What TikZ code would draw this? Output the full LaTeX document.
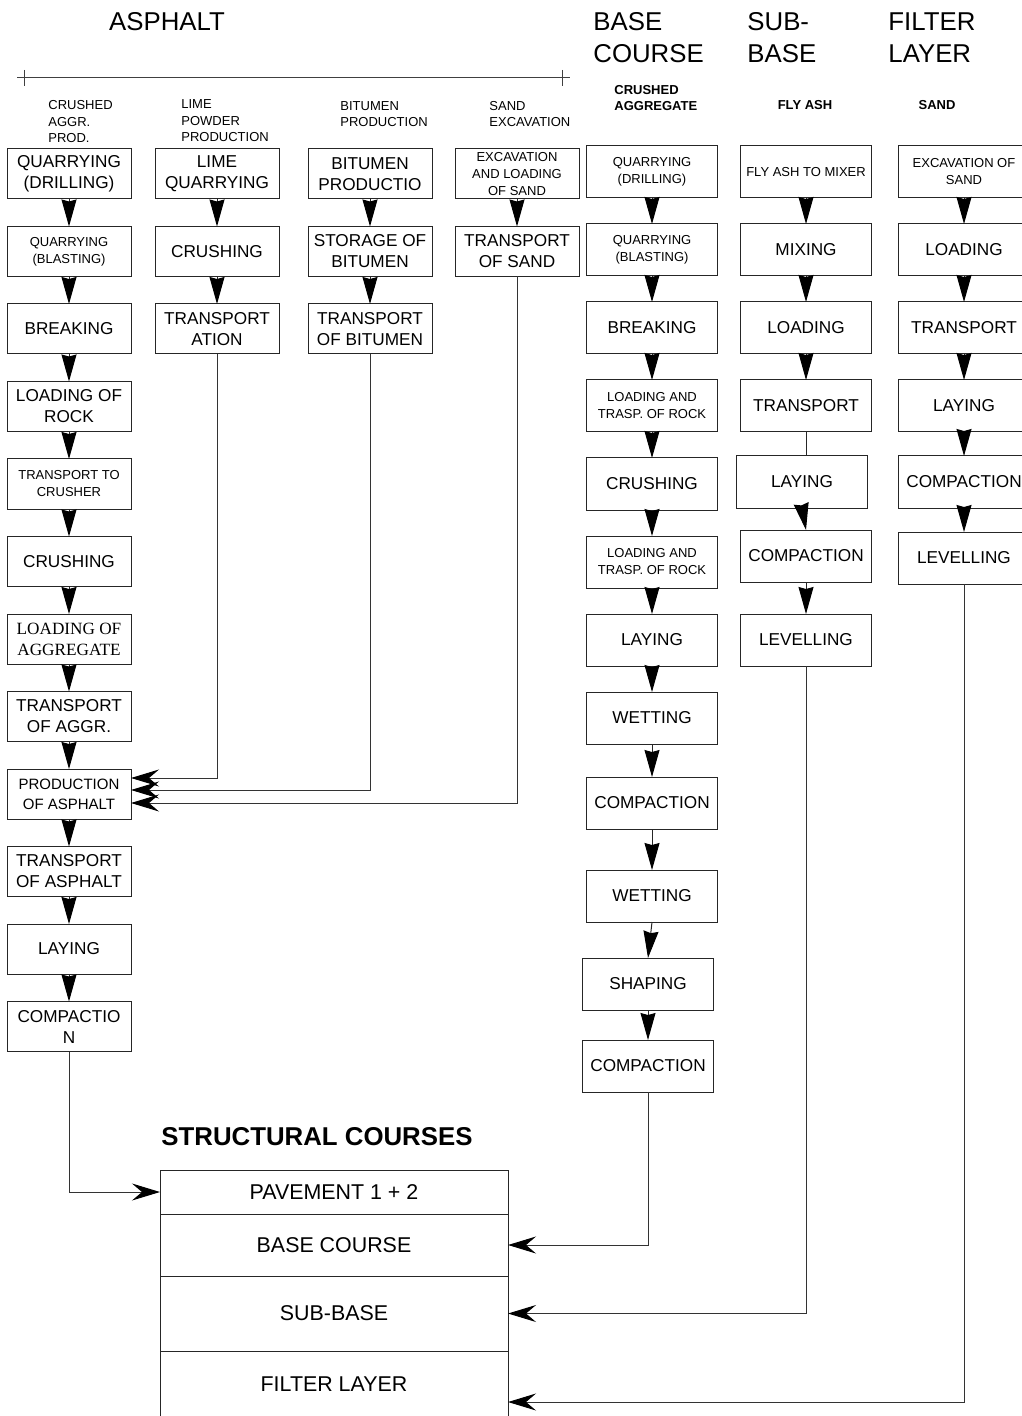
\documentclass[tikz,border=0pt]{standalone}
\usepackage{fontspec}
\setmainfont{Liberation Sans}
\newfontfamily\timesfont{Liberation Serif}
\usepackage{tikz}
\usetikzlibrary{positioning}
\usetikzlibrary{arrows.meta}

\begin{document}
\begin{tikzpicture}[
x=0.5pt, y=-0.5pt,
node distance=13.75pt,
procbox/.style={rectangle, draw=black!85, line width=0.5pt, outer sep=0pt, minimum width=62pt, minimum height=25pt, inner sep=1pt, align=center, font=\fontsize{8.6}{10.5}\selectfont},
smallbox/.style={procbox, font=\fontsize{6.5}{8.5}\selectfont},
widebox/.style={procbox, minimum width=65.5pt, minimum height=26pt},
widesmall/.style={widebox, font=\fontsize{6.5}{8.5}\selectfont},
layer/.style={rectangle, draw=black!85, line width=0.5pt, outer sep=0pt, minimum width=174pt, inner sep=0pt, font=\fontsize{10.7}{12}\selectfont},
heading/.style={align=left, anchor=west, inner sep=0pt, font=\fontsize{12.9}{16}\selectfont},
source/.style={align=left, anchor=west, inner sep=0pt, font=\fontsize{6.5}{8.25}\selectfont},
flow/.style={draw=black!85, line width=0.5pt, -{Stealth[length=13.5pt, width=7.5pt, inset=1pt, black]}},
feed/.style={draw=black!80, line width=0.5pt, -{Stealth[length=14pt, width=8.5pt, inset=5pt, black]}}
]
\useasboundingbox (0,0) rectangle (1021,1416);

%Headings
\node[font=\fontsize{12.9}{16}\selectfont] (asph) at (167,22) {ASPHALT};
\node[heading] (bchead) at (593,38) {BASE\\COURSE};
\node[heading] (sbhead) at (747,38) {SUB-\\BASE};
\node[heading] (flhead) at (888,38) {FILTER\\LAYER};
\draw[black!75, line width=0.5pt] (17,78) -- (570,78);
\draw[black!75, line width=0.5pt] (24,70) -- (24,86) (562,70) -- (562,86);

\node[source] (asrc) at (48,122) {CRUSHED\\AGGR.\\PROD.};
\node[source] (lsrc) at (181,121) {LIME\\POWDER\\PRODUCTION};
\node[source] (bsrc) at (340,114) {BITUMEN\\PRODUCTION};
\node[source] (ssrc) at (489,114) {SAND\\EXCAVATION};
\node[source, font=\bfseries\fontsize{6.5}{8.25}\selectfont] (casrc) at (614,98) {CRUSHED\\AGGREGATE};
\node[font=\bfseries\fontsize{6.5}{8}\selectfont] (fasrc) at (805,105) {FLY ASH};
\node[font=\bfseries\fontsize{6.5}{8}\selectfont] (sdsrc) at (937,105) {SAND};

%Nodes
\node[procbox]  (a1)  at (69,174)      {QUARRYING\\(DRILLING)};
\node[smallbox] (a2)  [below=of a1]    {QUARRYING\\(BLASTING)};
\node[procbox]  (a3)  [below=of a2]    {BREAKING};
\node[procbox]  (a4)  [below=of a3]    {LOADING OF\\ROCK};
\node[smallbox] (a5)  [below=of a4]    {TRANSPORT TO\\CRUSHER};
\node[procbox]  (a6)  [below=of a5]    {CRUSHING};
\node[procbox, font=\timesfont\fontsize{8.6}{10.5}\selectfont] (a7) [below=of a6] {LOADING OF\\AGGREGATE};
\node[procbox]  (a8)  [below=of a7]    {TRANSPORT\\OF AGGR.};
\node[procbox, font=\fontsize{7.5}{10}\selectfont] (a9) [below=of a8] {PRODUCTION\\OF ASPHALT};
\node[procbox]  (a10) [below=of a9]    {TRANSPORT\\OF ASPHALT};
\node[procbox]  (a11) [below=of a10]   {LAYING};
\node[procbox]  (a12) [below=of a11]   {COMPACTIO\\N};

\node[procbox]  (b1)  at (217,174)     {LIME\\QUARRYING};
\node[procbox]  (b2)  [below=of b1]    {CRUSHING};
\node[procbox]  (b3)  [below=of b2]    {TRANSPORT\\ATION};

\node[procbox]  (c1)  at (370,174)     {BITUMEN\\PRODUCTIO};
\node[procbox]  (c2)  [below=of c1]    {STORAGE OF\\BITUMEN};
\node[procbox]  (c3)  [below=of c2]    {TRANSPORT\\OF BITUMEN};

\node[smallbox] (d1)  at (517,174)     {EXCAVATION\\AND LOADING\\OF SAND};
\node[procbox]  (d2)  [below=of d1]    {TRANSPORT\\OF SAND};

\node[widesmall] (e1)  at (652,172)          {QUARRYING\\(DRILLING)};
\node[widesmall] (e2)  [below=13pt of e1]    {QUARRYING\\(BLASTING)};
\node[widebox]   (e3)  [below=13pt of e2]    {BREAKING};
\node[widesmall] (e4)  [below=13pt of e3]    {LOADING AND\\TRASP. OF ROCK};
\node[widebox]   (e5)  [below=13pt of e4]    {CRUSHING};
\node[widesmall] (e6)  [below=13pt of e5]    {LOADING AND\\TRASP. OF ROCK};
\node[widebox]   (e7)  [below=13pt of e6]    {LAYING};
\node[widebox]   (e8)  [below=13pt of e7]    {WETTING};
\node[widebox]   (e9)  [below=16.5pt of e8]  {COMPACTION};
\node[widebox]   (e10) [below=20.5pt of e9]  {WETTING};
\node[widebox]   (e11) [below=18pt of e10, xshift=-2pt] {SHAPING};
\node[widebox]   (e12) [below=15pt of e11]   {COMPACTION};

\node[widesmall] (f1)  at (806,172)          {FLY ASH TO MIXER};
\node[widebox]   (f2)  [below=13pt of f1]    {MIXING};
\node[widebox]   (f3)  [below=13pt of f2]    {LOADING};
\node[widebox]   (f4)  [below=13pt of f3]    {TRANSPORT};
\node[widebox]   (f5)  [below=12pt of f4, xshift=-2pt] {LAYING};
\node[widebox]   (f6)  [below=11pt of f5, xshift=2pt]  {COMPACTION};
\node[widebox]   (f7)  [below=16pt of f6]    {LEVELLING};

\node[widesmall] (g1)  at (964,172)          {EXCAVATION OF\\SAND};
\node[widebox]   (g2)  [below=13pt of g1]    {LOADING};
\node[widebox]   (g3)  [below=13pt of g2]    {TRANSPORT};
\node[widebox]   (g4)  [below=13pt of g3]    {LAYING};
\node[widebox]   (g5)  [below=12pt of g4]    {COMPACTION};
\node[widebox]   (g6)  [below=12pt of g5]    {LEVELLING};

\node[font=\bfseries\fontsize{12.9}{15}\selectfont] (struct) at (317,1137) {STRUCTURAL COURSES};
\node[layer, minimum height=22pt]   (pave) at (334,1192)        {PAVEMENT 1 + 2};
\node[layer, minimum height=31pt]   (base) [below=0pt of pave]  {BASE COURSE};
\node[layer, minimum height=37.5pt] (sub)  [below=0pt of base]  {SUB-BASE};
\node[layer, minimum height=33.5pt] (filt) [below=0pt of sub]   {FILTER LAYER};

%Lines
\draw[flow] (a1.south) -- (a2.north);
\draw[flow] (a2.south) -- (a3.north);
\draw[flow] (a3.south) -- (a4.north);
\draw[flow] (a4.south) -- (a5.north);
\draw[flow] (a5.south) -- (a6.north);
\draw[flow] (a6.south) -- (a7.north);
\draw[flow] (a7.south) -- (a8.north);
\draw[flow] (a8.south) -- (a9.north);
\draw[flow] (a9.south) -- (a10.north);
\draw[flow] (a10.south) -- (a11.north);
\draw[flow] (a11.south) -- (a12.north);

\draw[flow] (b1.south) -- (b2.north);
\draw[flow] (b2.south) -- (b3.north);
\draw[flow] (c1.south) -- (c2.north);
\draw[flow] (c2.south) -- (c3.north);
\draw[flow] (d1.south) -- (d2.north);

\draw[flow] (e1.south) -- (e2.north);
\draw[flow] (e2.south) -- (e3.north);
\draw[flow] (e3.south) -- (e4.north);
\draw[flow] (e4.south) -- (e5.north);
\draw[flow] (e5.south) -- (e6.north);
\draw[flow] (e6.south) -- (e7.north);
\draw[flow] (e7.south) -- (e8.north);
\draw[flow] (e8.south) -- (e9.north);
\draw[flow] (e9.south) -- (e10.north);
\draw[flow] (e10.south) -- (e11.north);
\draw[flow] (e11.south) -- (e12.north);

\draw[flow] (f1.south) -- (f2.north);
\draw[flow] (f2.south) -- (f3.north);
\draw[flow] (f3.south) -- (f4.north);
\draw[black!85, line width=0.5pt] (f4.south) -- (f4.south |- f5.north);
\draw[flow] (f5.south) -- (f6.north);
\draw[flow] (f6.south) -- (f7.north);

\draw[flow] (g1.south) -- (g2.north);
\draw[flow] (g2.south) -- (g3.north);
\draw[flow] (g3.south) -- (g4.north);
\draw[flow] (g4.south) -- (g5.north);
\draw[flow] (g5.south) -- (g6.north);

\draw[feed] (b3.south) |- ([yshift=8pt]a9.east);
\draw[feed] (c3.south) |- ([yshift=2pt]a9.east);
\draw[feed] (d2.south) |- ([yshift=-4.5pt]a9.east);
\draw[feed] (a12.south) |- (pave.west);
\draw[feed] (e12.south) |- (base.east);
\draw[feed] (f7.south) |- (sub.east);
\draw[feed] (g6.south) |- ([yshift=-8.75pt]filt.east);

\end{tikzpicture}
\end{document}
